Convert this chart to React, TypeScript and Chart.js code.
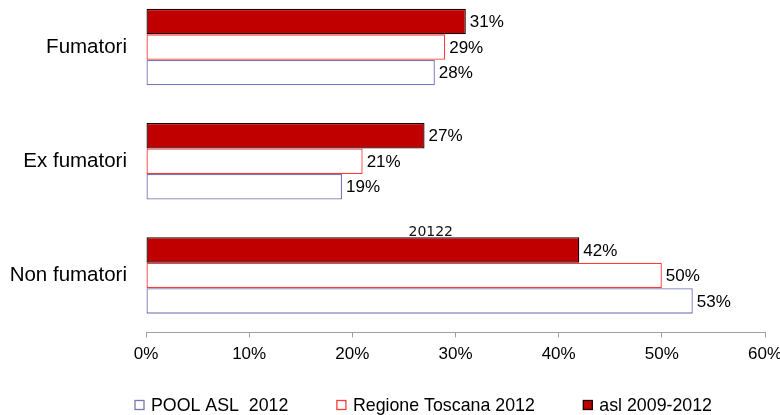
import React, { useEffect, useRef } from "react";
import { Chart, registerables } from "chart.js";

Chart.register(...registerables);

const categories = ["Fumatori", "Ex fumatori", "Non fumatori"];
const aslValues = [31, 27, 42];
const regioneValues = [29, 21, 50];
const poolValues = [28, 19, 53];
const seriesNames = ["asl 2009-2012", "Regione Toscana 2012", "POOL ASL  2012"];
const xTicksMax = 60;
const xTickStep = 10;
const noteText = "20122";
const noteValue = 27.6;

const FONT = "'Liberation Sans', Arial, sans-serif";

const labelsPlugin = {
  id: "barLabels",
  afterDatasetsDraw(chart: any) {
    const ctx = chart.ctx;
    ctx.save();
    ctx.fillStyle = "#000";
    ctx.font = `17px ${FONT}`;
    ctx.textAlign = "left";
    ctx.textBaseline = "middle";
    chart.data.datasets.forEach((ds: any, i: number) => {
      const meta = chart.getDatasetMeta(i);
      meta.data.forEach((el: any, j: number) => {
        ctx.fillText(`${ds.data[j]}%`, el.x + 4, el.y + 1);
      });
    });
    // stray note above the "Non fumatori" group
    const first = chart.getDatasetMeta(0).data[2];
    if (first) {
      const x = chart.scales.x.getPixelForValue(noteValue);
      ctx.font = `14px 'DejaVu Sans', sans-serif`;
      ctx.textAlign = "center";
      ctx.textBaseline = "bottom";
      ctx.fillStyle = "#111";
      ctx.fillText(noteText, x, first.y - first.height / 2 + 2);
    }
    ctx.restore();
  },
};

// Legend drawn below the axis, items in reverse dataset order
const legendPlugin = {
  id: "wideLegend",
  afterDraw(chart: any) {
    const ctx = chart.ctx;
    const area = chart.chartArea;
    const box = 9;
    const gap = 48.5;
    const textOffset = 16;
    const cy = area.bottom + 72.5;
    let x = area.left - 11;
    ctx.save();
    ctx.font = `17.8px ${FONT}`;
    ctx.textAlign = "left";
    ctx.textBaseline = "middle";
    const ds = [...chart.data.datasets].reverse();
    ds.forEach((d: any) => {
      ctx.fillStyle = d.backgroundColor;
      ctx.fillRect(x, cy - box / 2, box, box);
      ctx.strokeStyle = d.borderColor;
      ctx.lineWidth = 1.3;
      ctx.strokeRect(x, cy - box / 2, box, box);
      ctx.fillStyle = "#000";
      ctx.fillText(d.label, x + textOffset, cy + 1);
      x += textOffset + ctx.measureText(d.label).width + gap;
    });
    ctx.restore();
  },
};

export default function App() {
  const ref = useRef<HTMLCanvasElement | null>(null);

  useEffect(() => {
    if (!ref.current) return;
    const chart = new Chart(ref.current, {
      type: "bar",
      data: {
        labels: categories,
        datasets: [
          {
            label: seriesNames[0],
            data: aslValues,
            backgroundColor: "#C00000",
            borderColor: "#1a0000",
            borderWidth: 1.3,
            borderSkipped: false,
          },
          {
            label: seriesNames[1],
            data: regioneValues,
            backgroundColor: "#FFFFFF",
            borderColor: "#FF3A3A",
            borderWidth: 1.3,
            borderSkipped: false,
          },
          {
            label: seriesNames[2],
            data: poolValues,
            backgroundColor: "#FFFFFF",
            borderColor: "#7878B4",
            borderWidth: 1.3,
            borderSkipped: false,
          },
        ],
      },
      options: {
        indexAxis: "y",
        responsive: false,
        animation: false,
        categoryPercentage: 0.67,
        barPercentage: 1,
        layout: { padding: { left: 0, right: 15, top: 0, bottom: 42.5 } },
        scales: {
          x: {
            min: 0,
            max: xTicksMax,
            ticks: {
              stepSize: xTickStep,
              color: "#000",
              padding: 7,
              font: { family: FONT, size: 17 },
              callback: (v: any) => `${v}%`,
            },
            grid: {
              display: true,
              drawOnChartArea: false,
              drawTicks: true,
              tickLength: 5,
              color: "#A0A0A0",
            },
            border: { display: true, color: "#A0A0A0" },
            afterFit: (s: any) => {
              s.height = 40;
              s.paddingLeft = 0;
              s.paddingRight = 0;
            },
          },
          y: {
            ticks: {
              color: "#000",
              padding: 19,
              font: { family: FONT, size: 20.5 },
            },
            grid: { display: false, drawTicks: false },
            border: { display: false },
            afterFit: (s: any) => {
              s.width = 146;
              s.paddingTop = 0;
              s.paddingBottom = 0;
            },
          },
        },
        plugins: {
          legend: { display: false },
          tooltip: { enabled: false },
        },
      },
      plugins: [labelsPlugin, legendPlugin],
    } as any);
    return () => chart.destroy();
  }, []);

  return (
    <div style={{ position: "absolute", left: 0, top: -10, width: 780, height: 425 }}>
      <canvas ref={ref} width={780} height={425} style={{ display: "block" }} />
    </div>
  );
}
